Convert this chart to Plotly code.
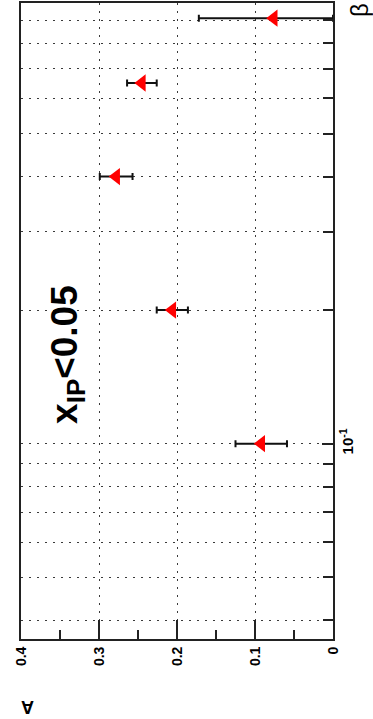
import plotly.graph_objects as go

# Asymmetry A versus beta (x_IP < 0.05), drawn in a rotated frame:
# A runs along the bottom (increasing to the left), beta up the right side.
beta = [0.1, 0.2, 0.4, 0.65, 0.91]
asym = [0.092, 0.206, 0.278, 0.245, 0.076]
asym_err_up = [0.033, 0.020, 0.021, 0.019, 0.096]
asym_err_down = [0.033, 0.020, 0.021, 0.019, 0.076]  # last one clipped at A = 0

a_ticks = [0, 0.1, 0.2, 0.3, 0.4]
a_tick_text = ["0", "0.1", "0.2", "0.3", "0.4"]
a_minor = [0.05, 0.15, 0.25, 0.35]

beta_major = [0.1]
beta_major_text = ["10<sup>-1</sup>"]
beta_minor = [0.04, 0.05, 0.06, 0.07, 0.08, 0.09,
              0.2, 0.3, 0.4, 0.5, 0.6, 0.7, 0.8, 0.9]

FONT = "Liberation Sans, Arial, sans-serif"
FRAME = "#222222"
GRID = "#3a3a3a"
DASH = "1.5px,6.5px"

fig = go.Figure()
fig.add_trace(go.Scatter(
    x=asym, y=beta, mode="markers",
    marker=dict(symbol="triangle-left", size=15, color="#ff0000",
                line=dict(width=0)),
    error_x=dict(type="data", symmetric=False,
                 array=asym_err_up, arrayminus=asym_err_down, visible=True,
                 color="#111111", thickness=2, width=3.5),
    showlegend=False,
))

fig.update_layout(
    width=373, height=719,
    margin=dict(l=21, r=40, t=1, b=80),
    paper_bgcolor="white", plot_bgcolor="white",
    font=dict(family=FONT, color="black"),
    xaxis=dict(
        range=[0.4, 0], tickmode="array", tickvals=a_ticks,
        ticktext=[f"<b>{t}</b>" for t in a_tick_text],
        tickangle=-90, tickfont=dict(size=14, family=FONT),
        ticks="inside", ticklen=19, tickwidth=2, tickcolor=FRAME,
        minor=dict(tickmode="array", tickvals=a_minor, ticks="inside",
                   ticklen=9, tickwidth=2, tickcolor=FRAME, showgrid=False),
        showgrid=True, gridcolor=GRID, gridwidth=1.4, griddash=DASH,
        showline=True, linecolor=FRAME, linewidth=2, mirror=True,
        zeroline=False, fixedrange=True,
    ),
    yaxis=dict(
        type="log", range=[-1.4404, -0.0067], side="right",
        tickmode="array", tickvals=beta_major,
        ticktext=[f"<b>{t}</b>" for t in beta_major_text],
        tickangle=-90, tickfont=dict(size=15, family=FONT),
        ticks="inside", ticklen=11, tickwidth=2, tickcolor=FRAME,
        minor=dict(tickmode="array", tickvals=beta_minor, ticks="inside",
                   ticklen=10, tickwidth=2, tickcolor=FRAME,
                   showgrid=True, gridcolor=GRID, gridwidth=1.4,
                   griddash=DASH),
        showgrid=True, gridcolor=GRID, gridwidth=1.4, griddash=DASH,
        showline=True, linecolor=FRAME, linewidth=2, mirror=True,
        zeroline=False, fixedrange=True,
    ),
    annotations=[
        dict(text="<b>x<sub>IP</sub>&lt;0.05</b>", textangle=-90,
             xref="paper", yref="paper",
             x=(67 - 21) / 312, y=(639 - 354) / 638,
             xanchor="center", yanchor="middle", showarrow=False,
             font=dict(size=37, family=FONT, color="black")),
        dict(text="<b>A</b>", textangle=180,
             xref="paper", yref="paper",
             x=(28 - 21) / 312, y=(639 - 707) / 638,
             xanchor="center", yanchor="middle", showarrow=False,
             font=dict(size=18, family=FONT, color="black")),
        dict(text="β", textangle=-90,
             xref="paper", yref="paper",
             x=(360 - 21) / 312, y=(639 - 8) / 638,
             xanchor="center", yanchor="middle", showarrow=False,
             font=dict(size=24, family=FONT, color="black")),
    ],
)

fig.write_html("out.html")
